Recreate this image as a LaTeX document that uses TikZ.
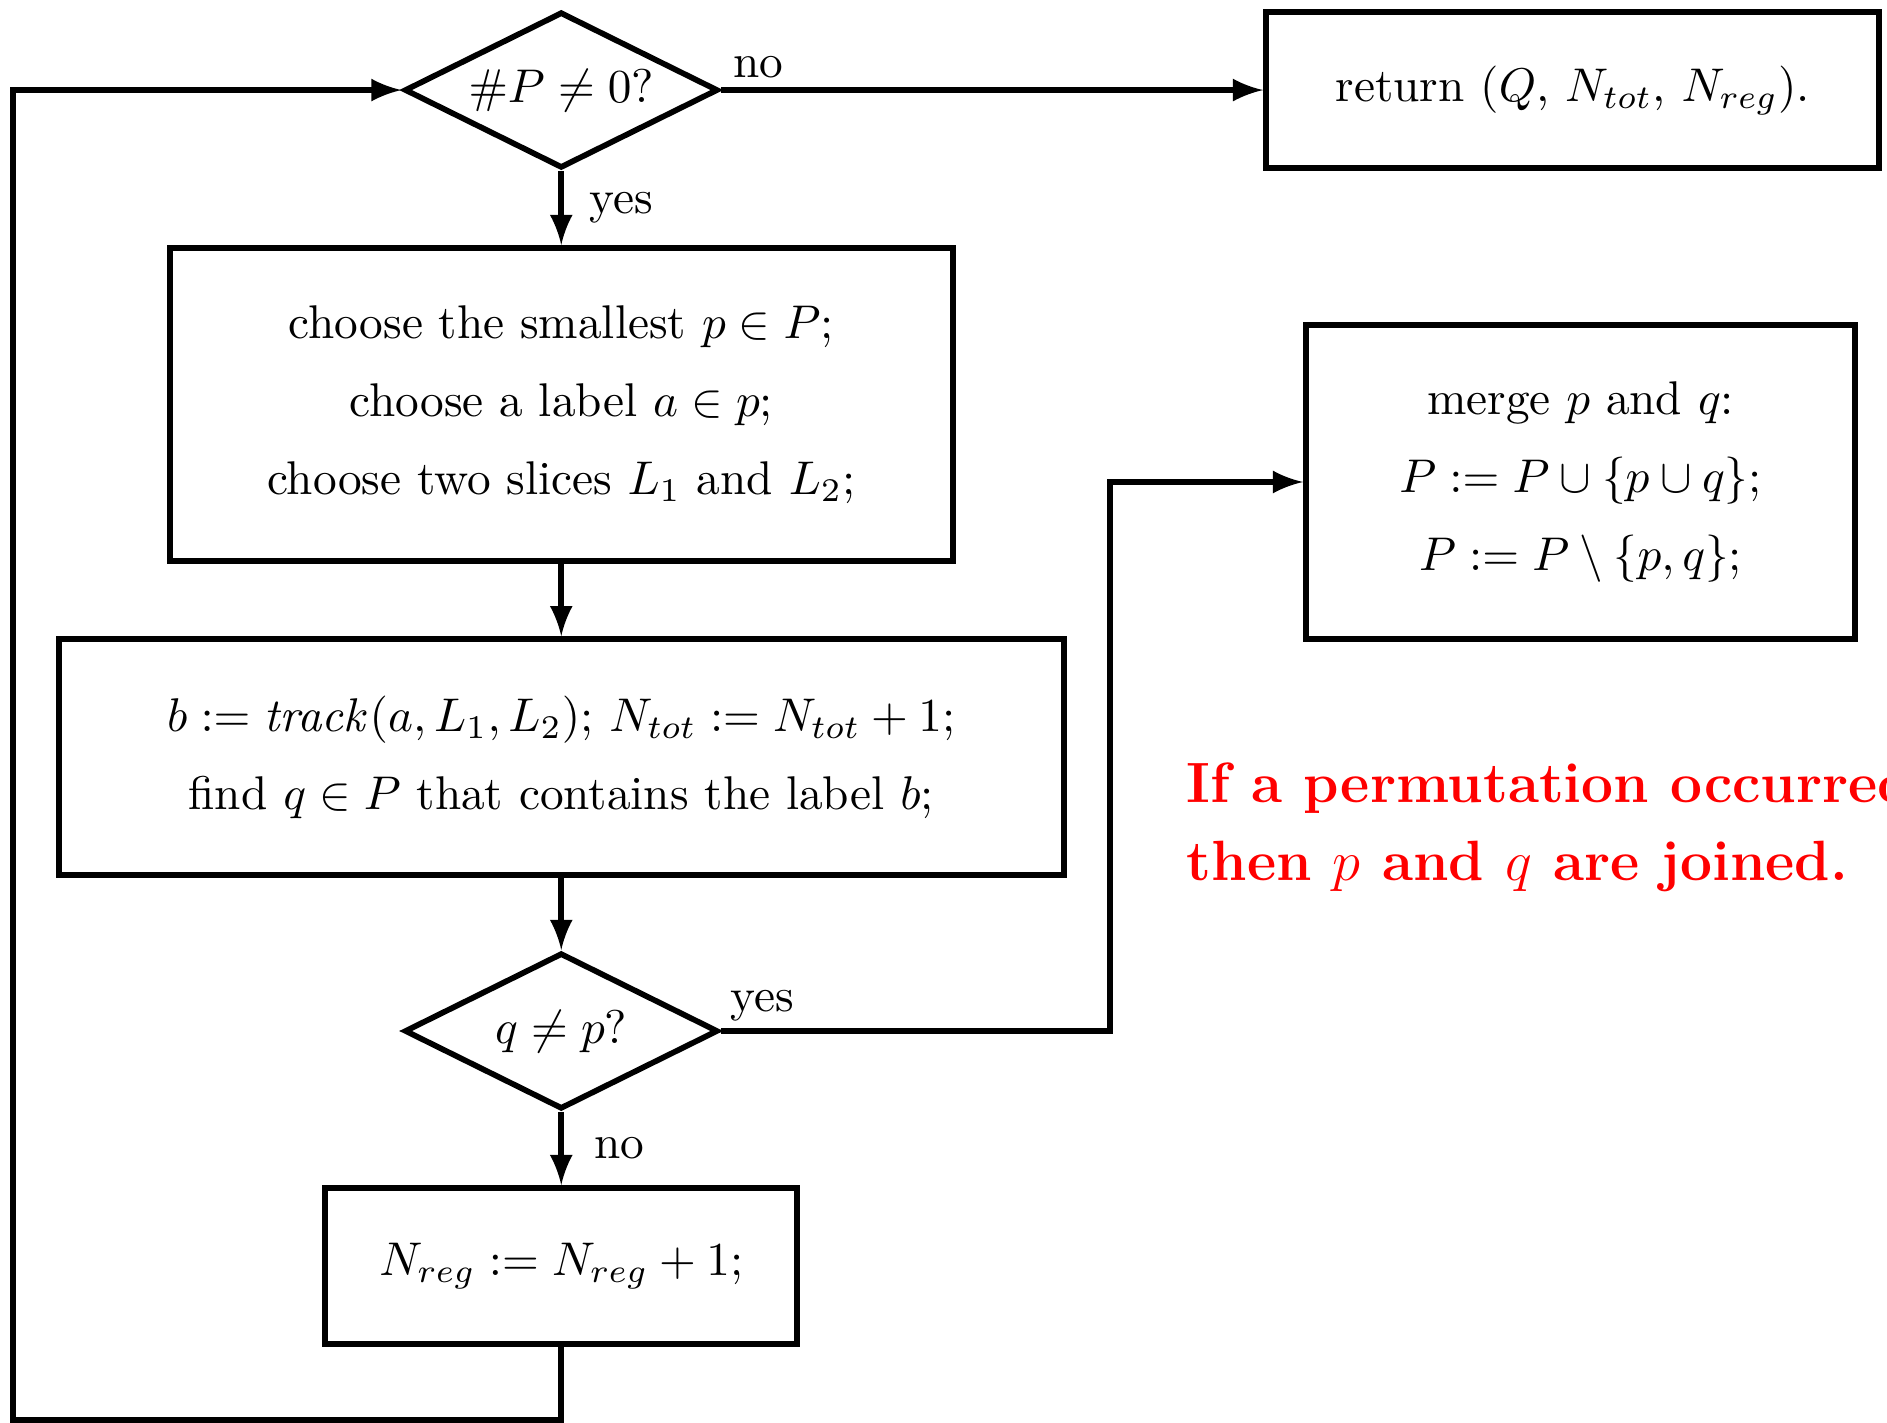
\documentclass[tikz,border=0pt]{standalone}
\usetikzlibrary{shapes.geometric}
\begin{document}
\begin{tikzpicture}[
  box/.style={rectangle, draw, line width=1.2pt, align=center, inner sep=0pt},
  decision/.style={diamond, draw, line width=1.2pt, aspect=2, inner sep=0pt, minimum width=2.33cm, minimum height=1.16cm},
  arrow/.style={-latex, line width=1.2pt},
  note/.style={align=left, text=red, font=\large\bfseries, inner sep=0pt}
]
\useasboundingbox (0,0) rectangle (14.02,-10.566);
\node[decision] (test) at (4.17,-0.669) {$\#P\neq 0$?};
\node[box, minimum width=4.555cm, minimum height=1.159cm] (ret) at (11.684,-0.669) {return ($Q$, $N_{tot}$, $N_{reg}$).};
\node[box, minimum width=5.818cm, minimum height=2.326cm] (choose) at (4.17,-3.005) {choose the smallest $p\in P$;\\[4.5pt] choose a label $a\in p$;\\[4.5pt] choose two slices $L_1$ and $L_2$;};
\node[box, minimum width=7.467cm, minimum height=1.753cm] (track) at (4.17,-5.625) {$b:=\mathit{track}(a,L_1,L_2)$; $N_{tot}:=N_{tot}+1$;\\[4.5pt] find $q\in P$ that contains the label $b$;};
\node[decision] (same) at (4.17,-7.660) {$q\neq p$?};
\node[box, minimum width=3.507cm, minimum height=1.159cm] (upd) at (4.17,-9.406) {$N_{reg}:=N_{reg}+1$;};
\node[box, minimum width=4.079cm, minimum height=2.333cm] (merge) at (11.743,-3.581) {merge $p$ and $q$:\\[4.5pt] $P:=P\cup\{p\cup q\}$;\\[4.5pt] $P:=P\setminus\{p,q\}$;};
\node[note, anchor=north west] (remark) at (8.81,-5.66) {If a permutation occurred,\\[2.5pt] then $p$ and $q$ are joined.};
\coordinate (jog) at (8.247,-7.660);
\coordinate (corner) at (0.097,-10.55);

\draw[arrow] (test) -- node[pos=0, anchor=south west, inner sep=2pt] {no} (ret);
\draw[arrow] (test) -- node[midway, right=2pt] {yes} (choose);
\draw[arrow] (choose) -- (track);
\draw[arrow] (track) -- (same);
\draw[arrow] (same) -- node[midway, right=3pt] {no} (upd);
\draw[arrow] (same) -- node[pos=0, anchor=south west, inner sep=1.5pt] {yes} (jog) |- (merge);
\draw[arrow] (upd) |- (corner) |- (test);
\end{tikzpicture}
\end{document}
